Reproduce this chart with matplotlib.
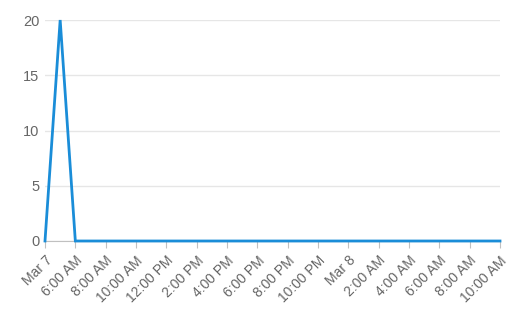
import matplotlib
matplotlib.use("Agg")
import matplotlib.pyplot as plt
import pandas as pd

plt.rcParams['font.family'] = ['Liberation Sans', 'DejaVu Sans']

# hourly readings from 4:00 AM Mar 7 to 10:00 AM Mar 8
times = pd.date_range("2024-03-07 04:00", "2024-03-08 10:00", freq="h")
values = [0, 20, 0, 0, 0, 0, 0, 0, 0, 0, 0, 0, 0, 0, 0, 0,
          0, 0, 0, 0, 0, 0, 0, 0, 0, 0, 0, 0, 0, 0, 0]

tick_times = pd.date_range("2024-03-07 04:00", "2024-03-08 10:00", freq="2h")
tick_labels = ["Mar 7", "6:00 AM", "8:00 AM", "10:00 AM", "12:00 PM",
               "2:00 PM", "4:00 PM", "6:00 PM", "8:00 PM", "10:00 PM",
               "Mar 8", "2:00 AM", "4:00 AM", "6:00 AM", "8:00 AM",
               "10:00 AM"]

fig = plt.figure(figsize=(5.26, 3.17), dpi=100)
ax = fig.add_axes([45 / 526, 76 / 317, 455 / 526, 221 / 317])

ax.plot(times, values, color='#1a8dd8', linewidth=2, clip_on=False,
        solid_joinstyle='miter', zorder=3)

ax.set_xlim(times[0], times[-1])
ax.set_ylim(0, 20)
ax.set_yticks([0, 5, 10, 15, 20])
ax.set_xticks(tick_times)
ax.set_xticklabels(tick_labels, rotation=45, ha='right', va='top',
                   rotation_mode='anchor')

ax.grid(axis='y', color='#e6e6e6', linewidth=1)
ax.set_axisbelow(True)
for side in ['top', 'right', 'left']:
    ax.spines[side].set_visible(False)
ax.spines['bottom'].set_color('#c0c0c0')
ax.tick_params(axis='x', colors='#c0c0c0', length=5, labelcolor='#666666',
               labelsize=10, pad=4)
ax.tick_params(axis='y', length=0, labelcolor='#666666', labelsize=10.5, pad=4)

fig.savefig("out.png", dpi=100)
